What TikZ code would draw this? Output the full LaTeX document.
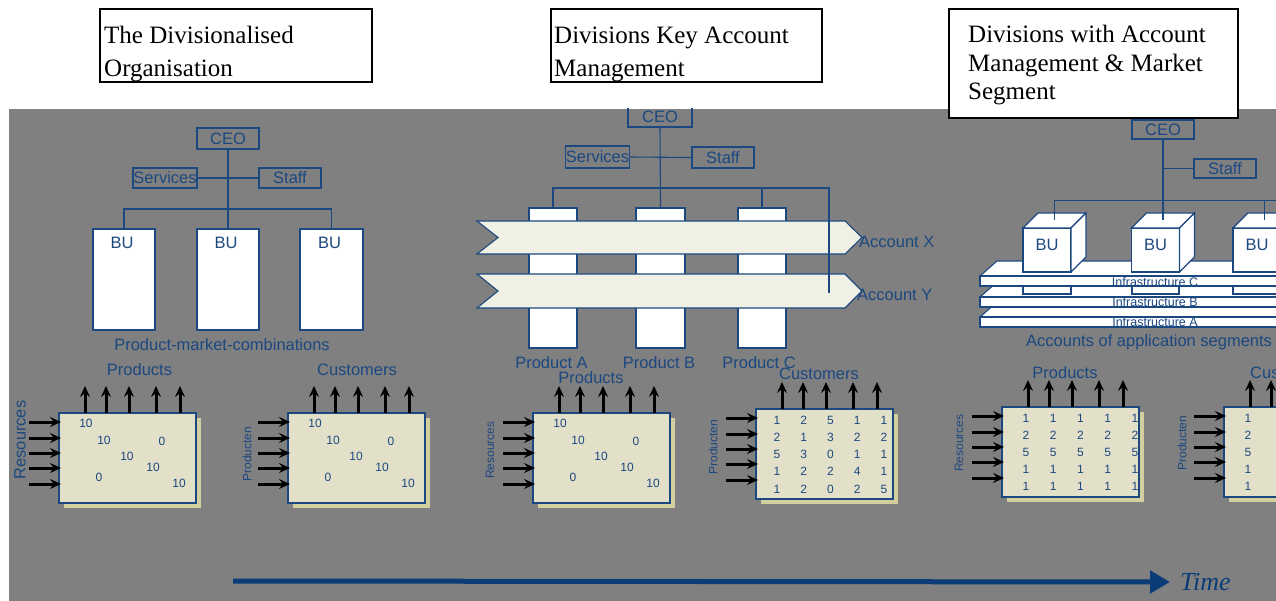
\documentclass[tikz,border=0pt]{standalone}
\usepackage{fontspec}
\setmainfont{Liberation Serif}
\setsansfont{Liberation Sans}
\usetikzlibrary{arrows.meta,calc}
\definecolor{bggrey}{HTML}{808080}
\definecolor{orgblue}{HTML}{1C4880}
\definecolor{timeblue}{HTML}{0B3C78}
\definecolor{matfill}{HTML}{E2E0C8}
\definecolor{matshadow}{HTML}{D3CF9E}
\definecolor{bandfill}{HTML}{F0F0E4}
\tikzset{
 lbl/.style={font=\sffamily\fontsize{16.5}{19}\selectfont, text=orgblue, inner sep=0pt},
 smalllbl/.style={font=\sffamily\fontsize{12}{14}\selectfont, text=orgblue, inner sep=0pt},
 num/.style={font=\sffamily\fontsize{12}{13}\selectfont, text=orgblue, inner sep=0pt},
 infra/.style={font=\sffamily\fontsize{12.5}{13}\selectfont, text=orgblue, inner sep=0pt},
 orgbox/.style={draw=orgblue, line width=1.1pt, inner sep=0pt, outer sep=0pt, font=\sffamily\fontsize{16.5}{19}\selectfont, text=orgblue},
 whitebox/.style={draw=orgblue, fill=white, line width=1.1pt, inner sep=0pt, outer sep=0pt},
 link/.style={draw=orgblue, line width=1.1pt},
 band/.style={draw=orgblue, fill=bandfill, line width=1.1pt},
 matbox/.style={draw=orgblue, fill=matfill, line width=1.1pt, inner sep=0pt, outer sep=0pt, minimum width=137pt, minimum height=90pt, anchor=north west},
 inarrow/.style={draw=black, line width=3pt, -{Stealth[length=11pt,width=10pt,inset=4pt]}},
 titlebox/.style={draw=black, fill=white, line width=1.3pt, inner sep=0pt, outer sep=0pt, anchor=north west},
 titletext/.style={font=\fontsize{25}{29}\selectfont, inner sep=0pt, anchor=base west},
}
\newcommand{\mymat}[3]{%
 \fill[matshadow] (#2+5,#3+5) rectangle ++(137,90);
 \node[matbox] (#1) at (#2,#3) {};
 \foreach \dx [count=\k] in {26,47,70,97,121}{
   \coordinate (#1up\k) at ($(#1.north west)+(\dx,-27)$);
   \draw[inarrow] ($(#1.north west)+(\dx,0)$) -- (#1up\k);
 }
 \foreach \dy [count=\k] in {9,25,40,55,71}{
   \coordinate (#1in\k) at ($(#1.north west)+(-30,\dy)$);
   \draw[inarrow] (#1in\k) -- ($(#1.north west)+(2,\dy)$);
 }
}
\newcommand{\mydiag}[1]{%
 \foreach \dx/\dy/\val [count=\k] in {27/10/10,45/27/10,103/28/0,68/43/10,94/54/10,40/64/0,120/70/10}
   \node[num] (#1v\k) at ($(#1.north west)+(\dx,\dy)$) {\val};
}
\newcommand{\mycube}[3]{%
 \node[whitebox, minimum width=48pt, minimum height=44pt] (#1) at (#2,#3) {};
 \draw[link, fill=white] (#1.north west) -- ++(15,-15) -- ++(48,0) -- (#1.north east) -- cycle;
 \draw[link, fill=white] (#1.north east) -- ++(15,-15) -- ++(0,44) -- (#1.south east) -- cycle;
 \coordinate (#1top) at ($(#1.north)+(7.5,-7.5)$);
 \node[lbl] (#1t) at ($(#1)+(0,-5)$) {BU};
}
\newcommand{\myslab}[2]{%
 \draw[link, fill=white] (980,#2) -- (997,#2-15) -- (1290,#2-15) -- (1290,#2) -- cycle;
 \node[whitebox, anchor=north west, minimum width=310pt, minimum height=10pt] (#1) at (980,#2) {};
}
\begin{document}
\begin{tikzpicture}[x=1pt,y=-1pt]
\useasboundingbox (0,0) rectangle (1276,601);
\fill[white] (0,0) rectangle (1276,601);
\begin{scope}
\clip (9,109) rectangle (1276,601);
\fill[bggrey] (9,109) rectangle (1276,601);

% ---------- left panel ----------
\node[orgbox, minimum width=62pt, minimum height=21pt] (ceoL) at (228,138.5) {CEO};
\node[orgbox, minimum width=64pt, minimum height=20pt] (servL) at (165,178) {Services};
\node[orgbox, minimum width=62pt, minimum height=20pt] (staffL) at (290,178) {Staff};
\node[whitebox, minimum width=62pt, minimum height=101pt] (bu1L) at (124,279.5) {};
\node[whitebox, minimum width=62pt, minimum height=101pt] (bu2L) at (228,279.5) {};
\node[whitebox, minimum width=63pt, minimum height=101pt] (bu3L) at (331.5,279.5) {};
\node[lbl, anchor=north] (bu1Lt) at ($(bu1L.north)+(-2,8)$) {BU};
\node[lbl, anchor=north] (bu2Lt) at ($(bu2L.north)+(-2,8)$) {BU};
\node[lbl, anchor=north] (bu3Lt) at ($(bu3L.north)+(-2,8)$) {BU};
\draw[link] (ceoL.south) -- (bu2L.north);
\draw[link] (servL.east) -- (staffL.west);
\draw[link] (bu1L.north) -- ++(0,-20) -| (bu3L.north);
\node[lbl] (pmcL) at (222,345) {Product-market-combinations};

% ---------- middle panel ----------
\node[orgbox, minimum width=64pt, minimum height=21pt] (ceoM) at (660,116.5) {CEO};
\node[orgbox, minimum width=63pt, minimum height=22pt] (servM) at (597.5,157) {Services};
\node[orgbox, minimum width=62pt, minimum height=21pt] (staffM) at (723,157.5) {Staff};
\node[whitebox, minimum width=48pt, minimum height=140pt] (pA) at (553,278) {};
\node[whitebox, minimum width=49pt, minimum height=140pt] (pB) at (660.5,278) {};
\node[whitebox, minimum width=48pt, minimum height=140pt] (pC) at (762,278) {};
\draw[link] (ceoM.south) -- (pB.north);
\draw[link] (servM.east) -- (staffM.west);
\draw[link] (pA.north) -- ++(0,-20) -| (pC.north);
\draw[band] (477,221) -- (845,221) -- (862,237.5) -- (845,254) -- (477,254) -- (498,237.5) -- cycle;
\draw[band] (477,274) -- (845,274) -- (862,291) -- (845,308) -- (477,308) -- (498,291) -- cycle;
\coordinate (barM) at (829,188);
\coordinate (endY) at (829,293);
\draw[link] (pC.north) ++(0,-20) -- (barM) -- (endY);
\node[lbl, anchor=west] (accX) at (859,242) {Account X};
\node[lbl, anchor=west] (accY) at (857,295) {Account Y};
\node[lbl] (labA) at (551.5,363) {Product A};
\node[lbl] (labB) at (659,363) {Product B};
\node[lbl] (labC) at (759,363) {Product C};

% ---------- right panel ----------
\node[orgbox, minimum width=62pt, minimum height=19pt] (ceoR) at (1163,129.5) {CEO};
\node[orgbox, minimum width=62pt, minimum height=19pt] (staffR) at (1225,168.5) {Staff};
\myslab{slabA}{317}
\myslab{slabB}{297}
\draw[link, fill=white] (1023,284) rectangle (1071,294);
\draw[link, fill=white] (1132,284) rectangle (1179,294);
\draw[link, fill=white] (1233,284) rectangle (1290,294);
\myslab{slabC}{276}
\node[infra] (infA) at (1155,322) {Infrastructure A};
\node[infra] (infB) at (1155,302) {Infrastructure B};
\node[infra] (infC) at (1155,282) {Infrastructure C};
\mycube{cubeA}{1047}{250}
\mycube{cubeB}{1155.5}{250}
\mycube{cubeC}{1257}{250}
\draw[link] (ceoR.south) -- (cubeBtop);
\draw[link] (staffR.west) -- (staffR.west -| ceoR.south);
\draw[link] (cubeAtop) -- ++(0,-20) -- (1290,200.5);
\draw[link] (cubeCtop) -- ++(0,-20);
\node[lbl, anchor=west] (accApp) at (1026,342) {Accounts of application segments};

% ---------- matrices ----------
\mymat{mA}{59}{413}
\mydiag{mA}
\node[lbl] (mAlab) at (139.5,370) {Products};
\node[lbl, rotate=90] (mAside) at (20,440) {Resources};

\mymat{mB}{288}{413}
\mydiag{mB}
\node[lbl] (mBlab) at (357,370) {Customers};
\node[smalllbl, rotate=90] (mBside) at (247,454) {Producten};

\mymat{mC}{533}{413}
\mydiag{mC}
\node[lbl] (mClab) at (591,378) {Products};
\node[smalllbl, rotate=90] (mCside) at (490,450) {Resources};

\mymat{mD}{756}{409}
\foreach \row [count=\ri] in {{1,2,5,1,1},{2,1,3,2,2},{5,3,0,1,1},{1,2,2,4,1},{1,2,0,2,5}}{
  \foreach \val [count=\ci] in \row {
    \node[num] (mDv\ri\ci) at ($(mD.north west)+({21+26.75*(\ci-1)},{11+17.25*(\ri-1)})$) {\val};
  }
}
\node[lbl] (mDlab) at (819,374) {Customers};
\node[smalllbl, rotate=90] (mDside) at (713,447) {Producten};

\mymat{mE}{1002}{407}
\foreach \val [count=\ri] in {1,2,5,1,1}{
  \foreach \ci in {1,...,5}{
    \node[num] (mEv\ri\ci) at ($(mE.north west)+({24+27.25*(\ci-1)},{11+17*(\ri-1)})$) {\val};
  }
}
\node[lbl] (mElab) at (1065,373) {Products};
\node[smalllbl, rotate=90] (mEside) at (959,443) {Resources};

\mymat{mF}{1224}{407}
\foreach \val [count=\ri] in {1,2,5,1,1}{
  \node[num] (mFv\ri) at ($(mF.north west)+(24,{11+17*(\ri-1)})$) {\val};
}
\node[lbl, anchor=west] (mFlab) at (1250,373) {Customers};
\node[smalllbl, rotate=90] (mFside) at (1182,443) {Producten};

% ---------- time ----------
\coordinate (tstart) at (233,581);
\node[font=\itshape\fontsize{26}{28}\selectfont, text=timeblue, anchor=west, inner sep=0pt] (timeL) at (1180,582) {Time};
\draw[timeblue, line width=5pt, -{Triangle[length=20pt,width=22pt]}] (tstart) -- ([xshift=-10pt]timeL.west);
\end{scope}

% ---------- title boxes ----------
\node[titlebox, minimum width=272pt, minimum height=73pt] (title1) at (100,9) {};
\begin{scope}
\clip (title1.north west) rectangle (title1.south east);
\node[titletext] (title1a) at (104,44) {The Divisionalised};
\node[titletext] (title1b) at (104,76.5) {Organisation};
\end{scope}
\node[titlebox, minimum width=271pt, minimum height=73pt] (title2) at (551,9) {};
\begin{scope}
\clip (title2.north west) rectangle (title2.south east);
\node[titletext] (title2a) at (554,44) {Divisions Key Account};
\node[titletext] (title2b) at (554,76.5) {Management};
\end{scope}
\node[titlebox, minimum width=289pt, minimum height=109pt] (title3) at (949,9) {};
\node[titletext] (title3a) at (968,43) {Divisions with Account};
\node[titletext] (title3b) at (968,72) {Management \& Market};
\node[titletext] (title3c) at (968,100) {Segment};
\end{tikzpicture}
\end{document}
